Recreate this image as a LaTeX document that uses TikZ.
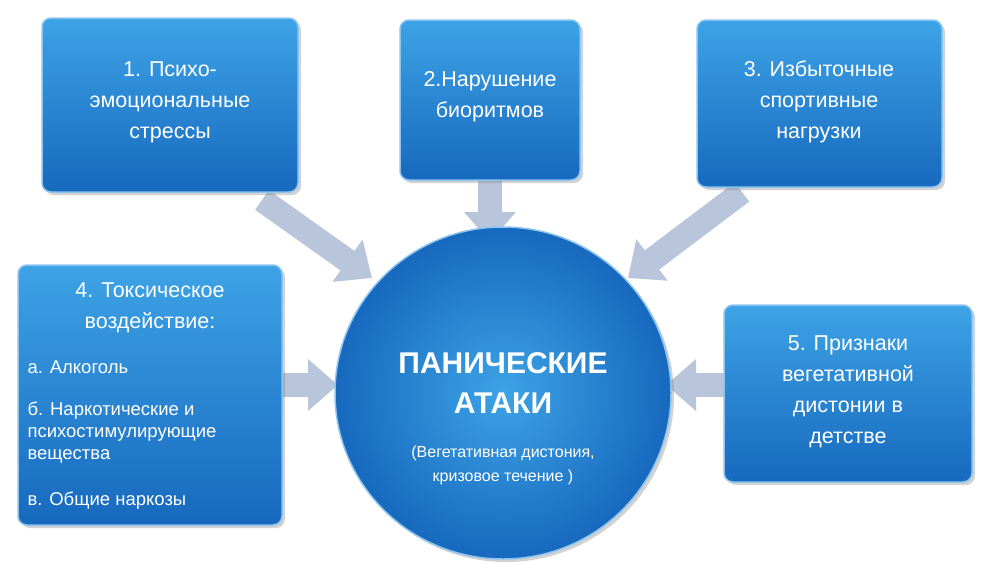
\documentclass[tikz,border=0pt]{standalone}
\usepackage{fontspec}
\setmainfont{Liberation Sans}
\usetikzlibrary{arrows.meta,shadows}
\definecolor{boxtop}{HTML}{3DA3E6}
\definecolor{boxbot}{HTML}{1769BE}
\definecolor{boxedge}{HTML}{8CC4EE}
\definecolor{arr}{HTML}{B9C5DA}
\tikzset{
 bx/.style={draw=boxedge,line width=1.5pt,rounded corners=9pt,top color=boxtop,bottom color=boxbot,drop shadow={shadow xshift=3pt,shadow yshift=-3pt,opacity=0.35}},
 bt/.style={text=white,font=\fontsize{21.5}{31}\selectfont,align=center},
 st/.style={text=white,font=\fontsize{18.5}{22}\selectfont,align=left,anchor=west},
 ar/.style={draw=arr,line width=24pt,-{Triangle[width=50pt,length=30pt]}}
}
\begin{document}
\begin{tikzpicture}[x=1pt,y=-1pt]
\useasboundingbox[fill=white] (0,0) rectangle (1000,563);
% arrows
\coordinate (a1s) at (262,200); \coordinate (a1e) at (372,278);
\coordinate (a2s) at (490,180); \coordinate (a2e) at (490,242);
\coordinate (a3s) at (742,192); \coordinate (a3e) at (628,278);
\coordinate (a4s) at (280,385); \coordinate (a4e) at (338,385);
\coordinate (a5s) at (728,385); \coordinate (a5e) at (666,385);
\foreach \s/\e in {a1s/a1e,a2s/a2e,a3s/a3e,a4s/a4e,a5s/a5e} \draw[ar] (\s) -- (\e);
% boxes
\draw[bx] (42,18) rectangle (298,192);
\node[bt] (t1) at (170,102) {1. Психо-\\эмоциональные\\стрессы};
\draw[bx] (400,20) rectangle (580,180);
\node[bt] (t2) at (490,97) {2.Нарушение\\биоритмов};
\draw[bx] (697,20) rectangle (942,187);
\node[bt] (t3) at (819,102) {3. Избыточные\\спортивные\\нагрузки};
\draw[bx] (18,265) rectangle (282,525);
\node[bt] (t4) at (150,308) {4. Токсическое\\воздействие:};
\node[st] (t4a) at (24,367) {а. Алкоголь};
\node[st] (t4b) at (24,433) {б. Наркотические и\\психостимулирующие\\вещества};
\node[st] (t4c) at (24,501) {в. Общие наркозы};
\draw[bx] (724,305) rectangle (972,482);
\node[bt] (t5) at (848,392) {5. Признаки\\вегетативной\\дистонии в\\детстве};
% circle
\shade[inner color=boxtop,outer color=boxbot,draw=boxedge,line width=1.5pt,drop shadow={shadow xshift=3pt,shadow yshift=-3pt,opacity=0.35}] (503,393) ellipse (168 and 166);
\node[text=white,font=\bfseries\fontsize{30}{40}\selectfont,align=center] (c) at (503,383) {ПАНИЧЕСКИЕ\\АТАКИ};
\node[text=white,font=\fontsize{16}{24}\selectfont,align=center] (c2) at (503,465) {(Вегетативная дистония,\\кризовое течение )};
\end{tikzpicture}
\end{document}
